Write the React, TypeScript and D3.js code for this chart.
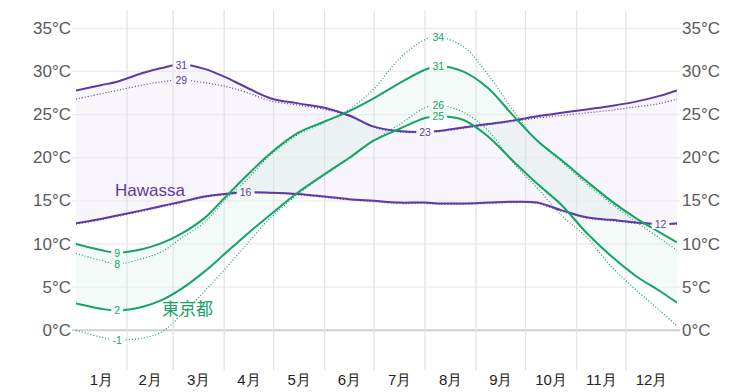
import React from "react";
import * as d3 from "d3";

// sample days (day of year)
const days = [0, 15, 25, 40, 52, 64, 78, 90, 103, 118, 135, 151, 166, 181, 196, 212, 220, 235, 250, 265, 280, 295, 310, 325, 340, 355, 365];

// Hawassa
const hawassaHigh = [27.8, 28.4, 28.8, 29.8, 30.4, 30.8, 30.3, 29.4, 28.2, 26.9, 26.3, 25.8, 24.9, 23.6, 23.1, 23.0, 23.1, 23.5, 23.9, 24.3, 24.8, 25.2, 25.6, 26.0, 26.5, 27.2, 27.8];
const hawassaHighFeel = [26.8, 27.4, 27.8, 28.4, 28.8, 29.0, 28.7, 28.3, 27.6, 26.6, 26.1, 25.6, 24.8, 23.5, 23.0, 22.9, 23.0, 23.4, 23.8, 24.2, 24.6, 24.9, 25.2, 25.5, 25.9, 26.3, 26.8];
const hawassaLow = [12.4, 12.9, 13.3, 13.9, 14.4, 14.9, 15.5, 15.8, 16.0, 15.95, 15.8, 15.5, 15.2, 15.0, 14.8, 14.8, 14.7, 14.7, 14.8, 14.9, 14.8, 13.9, 13.1, 12.8, 12.5, 12.3, 12.4];
const hawassaLowFeel = [12.3, 12.8, 13.2, 13.8, 14.3, 14.8, 15.4, 15.7, 15.9, 15.9, 15.7, 15.4, 15.1, 14.9, 14.7, 14.7, 14.6, 14.6, 14.7, 14.8, 14.7, 13.8, 13.0, 12.7, 12.4, 12.2, 12.3];

// Tokyo
const tokyoHigh = [10.0, 9.3, 9.0, 9.4, 10.1, 11.2, 13.0, 15.3, 17.8, 20.5, 22.9, 24.2, 25.4, 26.9, 28.6, 30.2, 30.6, 30.0, 28.1, 25.0, 22.0, 19.7, 17.3, 15.0, 13.0, 11.3, 10.2];
const tokyoHighFeel = [8.9, 8.1, 7.7, 8.3, 9.1, 10.7, 12.5, 15.0, 17.3, 20.3, 22.7, 24.1, 25.6, 28.0, 31.4, 33.7, 34.0, 32.9, 29.7, 25.6, 22.0, 19.5, 17.0, 14.7, 12.6, 10.6, 9.3];
const tokyoLow = [3.1, 2.5, 2.3, 2.7, 3.5, 4.8, 6.8, 8.8, 11.0, 13.4, 16.0, 18.1, 20.0, 22.0, 23.3, 24.6, 24.8, 24.4, 22.5, 19.7, 17.0, 14.5, 11.3, 8.6, 6.3, 4.5, 3.2];
const tokyoLowFeel = [0.0, -0.8, -1.1, -0.9, -0.2, 1.8, 4.5, 7.0, 9.8, 13.0, 15.8, 18.0, 19.9, 22.0, 23.8, 25.8, 26.1, 25.3, 23.2, 19.5, 16.5, 13.3, 10.8, 7.4, 4.7, 2.2, 0.5];

const monthStarts = [0, 31, 59, 90, 120, 151, 181, 212, 243, 273, 304, 334, 365];
const monthLabels = ["1月", "2月", "3月", "4月", "5月", "6月", "7月", "8月", "9月", "10月", "11月", "12月"];
const yTicks = [0, 5, 10, 15, 20, 25, 30, 35];

const cityNames = ["Hawassa", "東京都"];

const PURPLE = "#5f3aa3";
const GREEN = "#14a464";

export default function App() {
  const W = 753, H = 392;
  const x = d3.scaleLinear().domain([0, 365]).range([76, 677]);
  const y = d3.scaleLinear().domain([0, 35]).range([330.3, 28.3]);
  const curve = d3.curveCatmullRom.alpha(0.5);

  const pts = (vals: number[]) => vals.map((v, i) => [days[i], v] as [number, number]);
  const line = d3.line<[number, number]>().x(d => x(d[0])).y(d => y(d[1])).curve(curve);
  const area = (hi: number[], lo: number[]) =>
    d3.area<number>()
      .x((_, i) => x(days[i]))
      .y0((_, i) => y(lo[i]))
      .y1((_, i) => y(hi[i]))
      .curve(curve)(hi) as string;

  type Lbl = { vals: number[]; kind: "max" | "min"; color: string };
  const labelSpecs: Lbl[] = [
    { vals: hawassaHigh, kind: "max", color: PURPLE },
    { vals: hawassaHighFeel, kind: "max", color: PURPLE },
    { vals: hawassaHigh, kind: "min", color: PURPLE },
    { vals: hawassaLow, kind: "max", color: PURPLE },
    { vals: hawassaLow, kind: "min", color: PURPLE },
    { vals: tokyoHighFeel, kind: "max", color: GREEN },
    { vals: tokyoHigh, kind: "max", color: GREEN },
    { vals: tokyoLowFeel, kind: "max", color: GREEN },
    { vals: tokyoLow, kind: "max", color: GREEN },
    { vals: tokyoHigh, kind: "min", color: GREEN },
    { vals: tokyoHighFeel, kind: "min", color: GREEN },
    { vals: tokyoLow, kind: "min", color: GREEN },
    { vals: tokyoLowFeel, kind: "min", color: GREEN },
  ];
  const labels = labelSpecs.map(s => {
    const idx = s.kind === "max" ? d3.maxIndex(s.vals) : d3.minIndex(s.vals);
    const v = s.vals[idx];
    const text = String(Math.round(v));
    const w = text.replace("-", "").length * 5.8 + (text.startsWith("-") ? 3.5 : 0);
    return { cx: x(days[idx]), cy: y(v), text, w, color: s.color };
  });

  const font = "'Liberation Sans', Arial, Helvetica, sans-serif";

  return (
    <svg width={W} height={H} style={{ position: "absolute", left: 0, top: 0, background: "#fff" }} fontFamily={font}>
      <defs>
        <mask id="lblmask" maskUnits="userSpaceOnUse" x={0} y={0} width={W} height={H}>
          <rect x={0} y={0} width={W} height={H} fill="#fff" />
          {labels.map((l, i) => (
            <rect key={i} x={l.cx - l.w / 2 - 3} y={l.cy - 5} width={l.w + 6} height={10} fill="#000" />
          ))}
        </mask>
        <clipPath id="plotclip">
          <rect x={76} y={0} width={601} height={H} />
        </clipPath>
      </defs>

      {/* fills */}
      <g clipPath="url(#plotclip)">
        <path d={area(hawassaHigh, hawassaLow)} fill="rgba(120,80,200,0.05)" />
        <path d={area(tokyoHigh, tokyoLow)} fill="rgba(40,165,115,0.055)" />
      </g>

      {/* grid */}
      {yTicks.map(t => (
        <line key={t} x1={72} x2={680} y1={y(t)} y2={y(t)} stroke={t === 0 ? "#cfcfcf" : "#ececec"} strokeWidth={t === 0 ? 2 : 1.3} />
      ))}
      {monthStarts.slice(1, -1).map(d => (
        <line key={d} x1={x(d)} x2={x(d)} y1={10} y2={370} stroke="#e3e3e6" strokeWidth={1.3} />
      ))}

      {/* lines */}
      <g mask="url(#lblmask)" fill="none" clipPath="url(#plotclip)">
        <path d={line(pts(hawassaHighFeel)) as string} stroke={PURPLE} strokeWidth={1.2} strokeDasharray="1 2" />
        <path d={line(pts(hawassaLowFeel)) as string} stroke={PURPLE} strokeWidth={1.2} strokeDasharray="1 2" />
        <path d={line(pts(tokyoHighFeel)) as string} stroke={GREEN} strokeWidth={1.2} strokeDasharray="1 2" />
        <path d={line(pts(tokyoLowFeel)) as string} stroke={GREEN} strokeWidth={1.2} strokeDasharray="1 2" />
        <path d={line(pts(hawassaHigh)) as string} stroke={PURPLE} strokeWidth={2} />
        <path d={line(pts(hawassaLow)) as string} stroke={PURPLE} strokeWidth={2} />
        <path d={line(pts(tokyoHigh)) as string} stroke={GREEN} strokeWidth={2} />
        <path d={line(pts(tokyoLow)) as string} stroke={GREEN} strokeWidth={2} />
      </g>

      {/* value labels */}
      {labels.map((l, i) => (
        <text key={i} x={l.cx} y={l.cy} textAnchor="middle" dominantBaseline="central" fontSize={10.5} fill={l.color}>
          {l.text}
        </text>
      ))}

      {/* city names */}
      <text x={115} y={196} fontSize={17} fill={PURPLE}>{cityNames[0]}</text>
      <text x={162} y={315} fontSize={17} fill={GREEN} fontFamily="'Noto Sans CJK JP', sans-serif">{cityNames[1]}</text>

      {/* y axes */}
      {yTicks.map(t => (
        <g key={t}>
          <text x={71} y={y(t)} textAnchor="end" dominantBaseline="central" fontSize={17} fill="#5a5a5a">{`${t}°C`}</text>
          <text x={682} y={y(t)} textAnchor="start" dominantBaseline="central" fontSize={17} fill="#5a5a5a">{`${t}°C`}</text>
        </g>
      ))}

      {/* month labels */}
      {monthLabels.map((m, i) => (
        <text key={m} x={x((monthStarts[i] + monthStarts[i + 1]) / 2)} y={385} textAnchor="middle" fontSize={15} fill="#222">{m}</text>
      ))}
    </svg>
  );
}
